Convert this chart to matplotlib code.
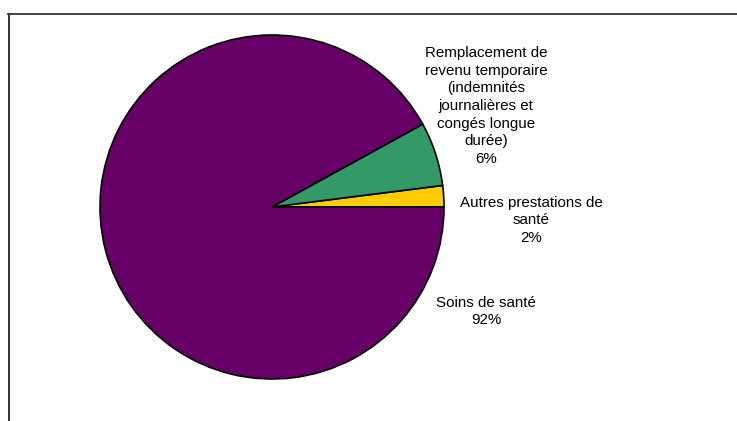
import matplotlib.pyplot as plt
from matplotlib.lines import Line2D

plt.rcParams['font.family'] = ['Liberation Sans', 'DejaVu Sans']

# Répartition des prestations
categories = [
    "Autres prestations de\nsanté",
    "Remplacement de\nrevenu temporaire\n(indemnités\njournalières et\ncongés longue\ndurée)",
    "Soins de santé",
]
shares = [2, 6, 92]
colors = ['#FFCC00', '#339966', '#660066']

# label centres, in pie radius units
label_pos = [(1.506, -0.078), (1.244, 0.587), (1.244, -0.608)]

fig = plt.figure(figsize=(7.37, 4.21), dpi=100)
ax = fig.add_axes([0, 0, 1, 1])
ax.pie(shares, colors=colors, startangle=0, counterclock=True, radius=1,
       wedgeprops=dict(edgecolor='black', linewidth=1.2))
ax.set_xlim(-272 / 172, (737 - 272) / 172)
ax.set_ylim(-(421 - 207) / 172, 207 / 172)
ax.set_aspect('equal')
ax.axis('off')

for name, val, (x, y) in zip(categories, shares, label_pos):
    ax.text(x, y, f"{name}\n{val}%", ha='center', va='center',
            fontsize=10.9, linespacing=1.33, color='black')

# outer frame (left and top edges)
fig.add_artist(Line2D([8.5 / 737, 8.5 / 737], [0, (421 - 14) / 421],
                      transform=fig.transFigure, color='#222222', linewidth=1.3))
fig.add_artist(Line2D([8 / 737, 1], [(421 - 14) / 421, (421 - 14) / 421],
                      transform=fig.transFigure, color='#333333', linewidth=1.3))

fig.savefig("out.png", dpi=100)
